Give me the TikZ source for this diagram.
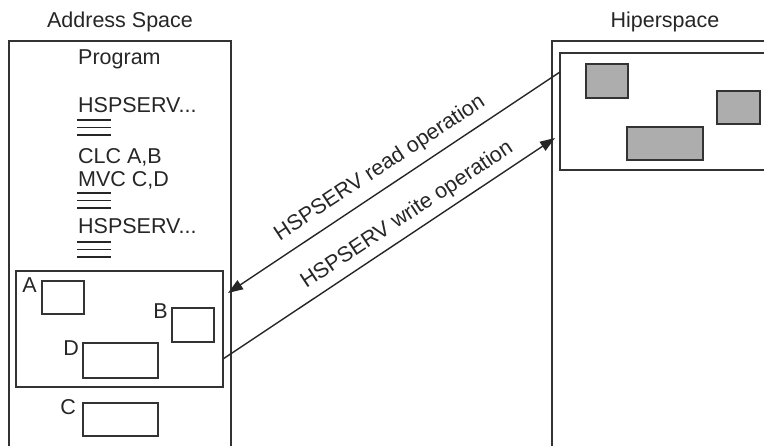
\documentclass[tikz,border=0pt]{standalone}
\usepackage{fontspec}
\setmainfont{Liberation Sans}
\usetikzlibrary{arrows.meta,calc}
\begin{document}
\begin{tikzpicture}[x=1pt,y=-1pt,
  box/.style={draw=black!80, line width=1.8pt, inner sep=0pt, outer sep=0pt, anchor=north west},
  gbox/.style={box, fill=black!32},
  txt/.style={inner sep=0pt, font=\fontsize{21.5}{25}\selectfont, text=black!85},
  lbl/.style={txt, anchor=base},
  conn/.style={line width=1.4pt, draw=black!85, -{Triangle[length=15pt,width=10.5pt]}},
  bar/.style={line width=1.8pt, draw=black!85}
]
\useasboundingbox (0,0) rectangle (764,446);

% Address space
\node[box, minimum width=222pt, minimum height=440pt] (as) at (9,41) {};
\node[txt, anchor=base] (ast) at (120,28) {Address Space};
\node[txt, anchor=base west] (prog) at (78,65) {Program};
\node[txt, anchor=base west] (hs1) at (78,113) {HSPSERV...};
\draw[bar] (77,120) -- (111,120) (77,127.5) -- (111,127.5) (77,135) -- (111,135);
\node[txt, anchor=base west] (clc) at (78,164) {CLC A,B};
\node[txt, anchor=base west] (mvc) at (78,187) {MVC C,D};
\draw[bar] (77,193) -- (111,193) (77,200.5) -- (111,200.5) (77,208) -- (111,208);
\node[txt, anchor=base west] (hs2) at (78,234) {HSPSERV...};
\draw[bar] (77,242) -- (111,242) (77,249.5) -- (111,249.5) (77,257) -- (111,257);

\node[box, minimum width=207pt, minimum height=116pt] (asin) at (16,271) {};
\node[box, minimum width=42pt, minimum height=33pt] (ba) at (42,281) {};
\node[txt, anchor=base east] (la) at (37,293) {A};
\node[box, minimum width=42pt, minimum height=34pt] (bb) at (172,308) {};
\node[txt, anchor=base east] (lb) at (168,319) {B};
\node[box, minimum width=75pt, minimum height=35pt] (bd) at (83,343) {};
\node[txt, anchor=base east] (ld) at (79,356) {D};
\node[box, minimum width=75pt, minimum height=33pt] (bc) at (83,403) {};
\node[txt, anchor=base east] (lc) at (76,415) {C};

% Hiperspace
\node[box, minimum width=260pt, minimum height=440pt] (hs) at (552,41) {};
\node[txt, anchor=base] (hst) at (665,28) {Hiperspace};
\node[box, minimum width=240pt, minimum height=117pt] (hin) at (560,53) {};
\node[gbox, minimum width=42pt, minimum height=34pt] (g1) at (586,64) {};
\node[gbox, minimum width=43pt, minimum height=33pt] (g2) at (717,91) {};
\node[gbox, minimum width=76pt, minimum height=33pt] (g3) at (627,127) {};

% Connectors
\coordinate (rs) at (hin.west |- 0,72);
\coordinate (re) at (228,293);
\coordinate (ws) at (asin.east |- 0,359);
\coordinate (we) at (555,138);
\draw[conn] (rs) -- (re);
\draw[conn] (ws) -- (we);
\node[lbl, rotate=33.4] (rlab) at ($(re)!0.49!(rs)!14pt!90:(rs)$) {HSPSERV read operation};
\node[lbl, rotate=33.5] (wlab) at ($(ws)!0.584!(we)!12pt!90:(we)$) {HSPSERV write operation};
\end{tikzpicture}
\end{document}
